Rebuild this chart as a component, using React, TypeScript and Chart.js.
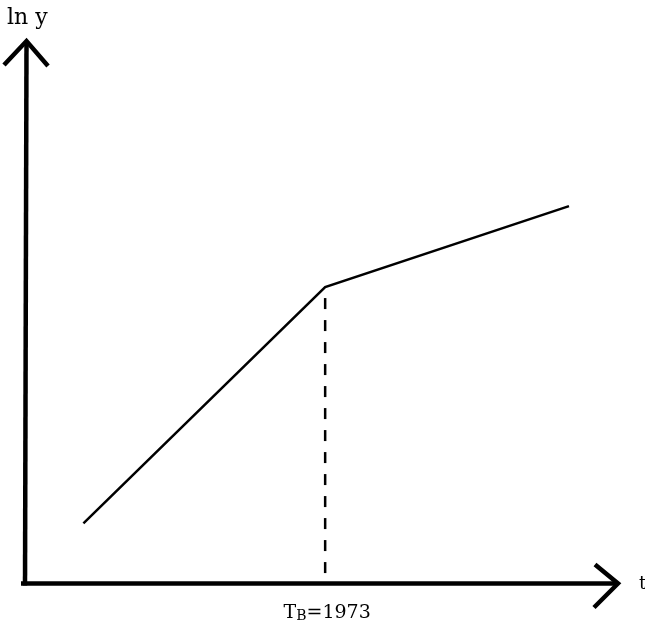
import React, { useEffect, useRef } from "react";
import { Chart, registerables } from "chart.js";

Chart.register(...registerables);

// Data (abstract units: t on 0..100, ln y on 0..100)
const tValues = [10, 50.7, 91.75];
const lnYValues = [11, 54.5, 69.4];
const breakT = 50.7;
const breakLabelMain = "T";
const breakLabelSub = "B";
const breakLabelRest = "=1973";
const yAxisLabel = "ln y";
const xAxisLabel = "t";

const FONT = "'DejaVu Serif', serif";

const axesPlugin = {
  id: "arrowAxes",
  beforeDatasetsDraw(chart: any) {
    const { ctx, scales } = chart;
    const xs = scales.x;
    const ys = scales.y;
    const ox = xs.getPixelForValue(0) + 1;
    const oy = ys.getPixelForValue(0) + 0.5;
    const topY = ys.getPixelForValue(ys.max);
    const rightX = xs.getPixelForValue(xs.max);
    ctx.save();
    ctx.strokeStyle = "#000";
    ctx.lineWidth = 4.5;
    ctx.lineCap = "butt";
    ctx.lineJoin = "miter";
    // y axis
    ctx.beginPath();
    ctx.moveTo(ox, oy + 2);
    ctx.lineTo(ox + 1.5, topY + 2);
    ctx.stroke();
    // y arrowhead
    ctx.beginPath();
    ctx.moveTo(ox - 21, topY + 25);
    ctx.lineTo(ox + 1.5, topY + 1);
    ctx.lineTo(ox + 23, topY + 26);
    ctx.stroke();
    // x axis
    ctx.beginPath();
    ctx.moveTo(ox - 4, oy);
    ctx.lineTo(rightX - 1, oy);
    ctx.stroke();
    // x arrowhead
    ctx.beginPath();
    ctx.moveTo(rightX - 23, oy - 19);
    ctx.lineTo(rightX, oy);
    ctx.lineTo(rightX - 24, oy + 24);
    ctx.stroke();

    // labels
    ctx.fillStyle = "#000";
    ctx.textBaseline = "alphabetic";
    ctx.textAlign = "left";
    ctx.font = `22px ${FONT}`;
    ctx.fillText(yAxisLabel, 7, 24);
    ctx.font = `18px ${FONT}`;
    ctx.fillText(xAxisLabel, 639, 589);

    // break label
    const bx = xs.getPixelForValue(breakT);
    ctx.font = `19px ${FONT}`;
    const wMain = ctx.measureText(breakLabelMain).width;
    const wRest = ctx.measureText(breakLabelRest).width;
    ctx.font = `14px ${FONT}`;
    const wSub = ctx.measureText(breakLabelSub).width;
    const total = wMain + wSub + wRest;
    let cx = bx + 2 - total / 2;
    ctx.font = `19px ${FONT}`;
    ctx.fillText(breakLabelMain, cx, 618);
    cx += wMain;
    ctx.font = `14px ${FONT}`;
    ctx.fillText(breakLabelSub, cx, 620);
    cx += wSub;
    ctx.font = `19px ${FONT}`;
    ctx.fillText(breakLabelRest, cx, 618);
    ctx.restore();
  },
};

export default function App() {
  const ref = useRef<HTMLCanvasElement | null>(null);
  useEffect(() => {
    if (!ref.current) return;
    const chart = new Chart(ref.current, {
      type: "scatter",
      data: {
        datasets: [
          {
            data: tValues.map((t, i) => ({ x: t, y: lnYValues[i] })),
            showLine: true,
            borderColor: "#000",
            borderWidth: 2.5,
            pointRadius: 0,
            fill: false,
          },
          {
            data: [
              { x: breakT, y: lnYValues[1] },
              { x: breakT, y: 0 },
            ],
            showLine: true,
            borderColor: "#000",
            borderWidth: 2.5,
            borderDash: [11, 11],
            borderDashOffset: 11,
            pointRadius: 0,
            fill: false,
          },
        ],
      },
      options: {
        responsive: false,
        animation: false,
        layout: { padding: { left: 24, right: 27, top: 40, bottom: 39 } },
        plugins: { legend: { display: false }, tooltip: { enabled: false }, title: { display: false } },
        scales: {
          x: { type: "linear", min: 0, max: 100, display: false },
          y: { type: "linear", min: 0, max: 100, display: false },
        },
      },
      plugins: [axesPlugin],
    });
    return () => chart.destroy();
  }, []);
  return (
    <div style={{ position: "fixed", left: 0, top: 0, width: 645, height: 622, background: "#fff" }}>
      <canvas ref={ref} width={645} height={622} style={{ width: 645, height: 622, display: "block" }} />
    </div>
  );
}
